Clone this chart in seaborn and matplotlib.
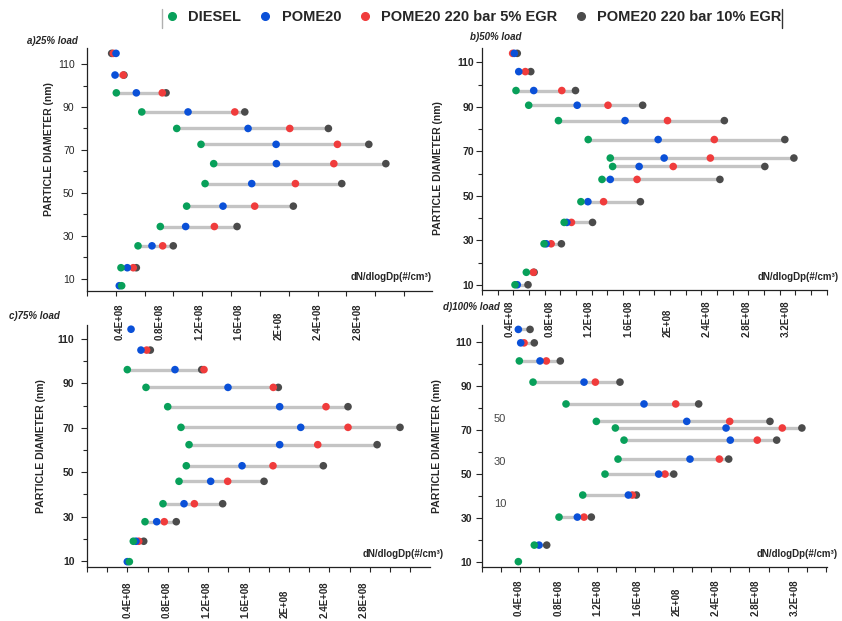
import numpy as np
import pandas as pd
import matplotlib.pyplot as plt
from matplotlib.lines import Line2D
import seaborn as sns

# dN/dlogDp in units of 1E+08 #/cm3 (nan = point not visible in the original)
a_diam = [115, 104.9, 96.6, 87.7, 80, 72.6, 63.6, 54.3, 43.8, 34.3, 25.3, 15.1, 6.7]
a_diesel = [np.nan, np.nan, 0.363, 0.62, 0.973, 1.218, 1.346, 1.259, 1.073, 0.807, 0.582, 0.41, 0.417]
a_pome20 = [0.36, 0.35, 0.565, 1.087, 1.693, 1.976, 1.979, 1.73, 1.44, 1.063, 0.723, 0.474, 0.393]
a_egr5 = [0.333, 0.433, 0.827, 1.559, 2.114, 2.595, 2.559, 2.171, 1.76, 1.353, 0.831, 0.534, np.nan]
a_egr10 = [0.316, 0.44, 0.865, 1.66, 2.504, 2.912, 3.084, 2.639, 2.15, 1.582, 0.938, 0.565, np.nan]

b_diam = [114, 105.8, 97.3, 90.7, 83.8, 75.3, 67, 63.2, 57.4, 47.4, 38.1, 28.5, 15.7, 10.1]
b_diesel = [np.nan, np.nan, 0.461, 0.59, 0.892, 1.194, 1.418, 1.442, 1.334, 1.12, 0.95, 0.746, 0.566, 0.451]
b_pome20 = [0.444, 0.489, 0.641, 1.082, 1.568, 1.904, 1.965, 1.711, 1.418, 1.191, 0.977, 0.767, np.nan, 0.474]
b_egr5 = [0.427, 0.556, 0.926, 1.395, 1.999, 2.474, 2.434, 2.057, 1.69, 1.35, 1.024, 0.818, 0.637, np.nan]
b_egr10 = [0.474, 0.611, 1.065, 1.747, 2.576, 3.19, 3.282, 2.987, 2.531, 1.724, 1.238, 0.922, 0.645, 0.583]

c_diam = [114.4, 105, 96.2, 88.2, 79.5, 70.2, 62.4, 52.9, 45.9, 35.8, 27.7, 18.9, 9.7]
c_diesel = [np.nan, np.nan, 0.396, 0.586, 0.807, 0.942, 1.024, 0.996, 0.922, 0.759, 0.576, 0.457, 0.417]
c_pome20 = [0.434, 0.535, 0.881, 1.42, 1.946, 2.16, 1.946, 1.563, 1.244, 0.973, 0.695, 0.484, 0.396]
c_egr5 = [np.nan, 0.593, 1.176, 1.881, 2.417, 2.641, 2.333, 1.878, 1.417, 1.078, 0.772, 0.512, np.nan]
c_egr10 = [np.nan, 0.63, 1.153, 1.932, 2.641, 3.17, 2.937, 2.39, 1.787, 1.366, 0.894, 0.563, np.nan]

d_diam = [115.6, 109.5, 101.3, 91.7, 81.8, 73.9, 70.9, 65.4, 56.8, 50, 40.5, 30.5, 17.8, 10.3]
d_diesel = [np.nan, np.nan, 0.403, 0.542, 0.877, 1.185, 1.378, 1.466, 1.405, 1.273, 1.047, 0.806, 0.555, 0.393]
d_pome20 = [0.393, 0.417, 0.613, 1.06, 1.669, 2.103, 2.502, 2.545, 2.136, 1.818, 1.51, 0.992, 0.603, np.nan]
d_egr5 = [np.nan, 0.451, 0.677, 1.175, 1.991, 2.539, 3.073, 2.819, 2.434, 1.882, 1.55, 1.06, np.nan, np.nan]
d_egr10 = [0.512, 0.555, 0.819, 1.425, 2.224, 2.948, 3.272, 3.016, 2.529, 1.971, 1.591, 1.134, 0.681, np.nan]

SERIES = ['DIESEL', 'POME20', 'POME20 220 bar 5% EGR', 'POME20 220 bar 10% EGR']
COLORS = {'DIESEL': '#08a05a', 'POME20': '#0a50d8',
          'POME20 220 bar 5% EGR': '#f03c3c', 'POME20 220 bar 10% EGR': '#4b4b4b'}
X_LABELS = ['0.4E+08', '0.8E+08', '1.2E+08', '1.6E+08', '2E+08', '2.4E+08', '2.8E+08', '3.2E+08']

sns.set_style('ticks')
plt.rcParams['font.family'] = ['Liberation Sans', 'DejaVu Sans']

W, H = 842, 621
fig = plt.figure(figsize=(W / 100, H / 100), dpi=100)


def add_ax(left, top, right, bottom):
    ax = fig.add_axes([left / W, 1 - bottom / H, (right - left) / W, (bottom - top) / H])
    ax.patch.set_alpha(0)
    return ax


def draw_panel(ax, diam, diesel, pome, egr5, egr10, xlim, ylim, tick_step, nlab,
               lab_pad, ybold, ypad, ylab_xy, xlab_x):
    vals = dict(zip(SERIES, [diesel, pome, egr5, egr10]))
    # draw order: 10% EGR at the bottom, diesel on top
    df = pd.concat([pd.DataFrame({'diameter': diam, 'value': vals[s], 'series': s})
                    for s in SERIES[::-1]], ignore_index=True)
    stack = np.array([diesel, pome, egr5, egr10], dtype=float)
    ax.hlines(diam, np.nanmin(stack, axis=0), np.nanmax(stack, axis=0),
              color='#c4c4c4', lw=2.4, zorder=1)
    sns.scatterplot(data=df, x='value', y='diameter', hue='series', palette=COLORS,
                    s=30, linewidth=0, legend=False, ax=ax, zorder=2)
    ax.set_xlim(xlim)
    ax.set_ylim(ylim)
    ax.set_yticks(range(10, 111, 20))
    ax.set_yticks(range(20, 101, 20), minor=True)
    ax.set_yticklabels([str(v) for v in range(10, 111, 20)], fontsize=7.5,
                       fontweight='bold' if ybold else 'normal')
    ax.tick_params(axis='y', which='major', length=4, pad=ypad, width=0.8)
    ax.tick_params(axis='y', which='minor', length=3, width=0.8)
    ax.set_xticks([0.4 * (i + 1) for i in range(nlab)], X_LABELS[:nlab], rotation=90,
                  va='bottom', ha='center', fontweight='bold', fontsize=7)
    ax.set_xticks(np.arange(xlim[0], xlim[1], tick_step), minor=True)
    ax.tick_params(axis='x', which='major', length=0, pad=lab_pad)
    ax.tick_params(axis='x', which='minor', length=3.5, width=0.8)
    ax.set_xlabel('')
    ax.set_ylabel('PARTICLE DIAMETER (nm)', fontsize=7.5, fontweight='bold')
    ax.yaxis.set_label_coords(*ylab_xy)
    ax.text(xlab_x, 0.035, 'dN/dlogDp(#/cm³)', transform=ax.transAxes, ha='right',
            va='bottom', fontsize=7, fontweight='bold')
    sns.despine(ax=ax)
    for sp in ['left', 'bottom']:
        ax.spines[sp].set_color('#222222')
        ax.spines[sp].set_linewidth(0.9)


ax_a = add_ax(87, 48, 432, 291)
ax_b = add_ax(482, 48, 827, 290)
ax_c = add_ax(87, 325, 430, 567)
ax_d = add_ax(482, 325, 827, 567)

draw_panel(ax_a, a_diam, a_diesel, a_pome20, a_egr5, a_egr10, (0.067, 3.55), (4.25, 117.5),
           0.291, 7, 35, False, 5, (-0.096, 0.586), 1.0)
draw_panel(ax_b, b_diam, b_diesel, b_pome20, b_egr5, b_egr10, (0.116, 3.618), (7.75, 116.4),
           0.159, 8, 34, True, 1.5, (-0.113, 0.504), 1.035)
draw_panel(ax_c, c_diam, c_diesel, c_pome20, c_egr5, c_egr10, (-0.014, 3.475), (7.3, 116.3),
           0.2055, 7, 37, True, 5, (-0.12, 0.5), 1.04)
draw_panel(ax_d, d_diam, d_diesel, d_pome20, d_egr5, d_egr10, (0.024, 3.527), (7.87, 117.6),
           0.194, 8, 35, True, 3, (-0.116, 0.5), 1.03)

# panel titles
for txt, px, py in [('a)25% load', 27, 41), ('b)50% load', 470, 37),
                    ('c)75% load', 9, 316), ('d)100% load', 443, 307)]:
    fig.text(px / W, 1 - py / H, txt, fontsize=7, fontweight='bold', fontstyle='italic',
             ha='left', va='center')

# stray labels left inside panel d
for txt, py in [('50', 419), ('30', 462), ('10', 504)]:
    fig.text(500 / W, 1 - py / H, txt, fontsize=8, color='#444444', ha='center', va='center')

handles = [Line2D([], [], marker='o', ls='', color=COLORS[s], markersize=5.5) for s in SERIES]
fig.legend(handles, SERIES, loc='center left', bbox_to_anchor=(168 / W, 1 - 17 / H), ncol=4,
           frameon=False, prop={'weight': 'bold', 'size': 10.5}, handlelength=0.6,
           handletextpad=0.8, columnspacing=1.35, borderpad=0, borderaxespad=0)
for xpx, col in [(162, '#b0b0b0'), (782, '#333333')]:
    fig.add_artist(Line2D([xpx / W, xpx / W], [1 - 9 / H, 1 - 28 / H], color=col, lw=1))

fig.savefig('out.png', dpi=100)
